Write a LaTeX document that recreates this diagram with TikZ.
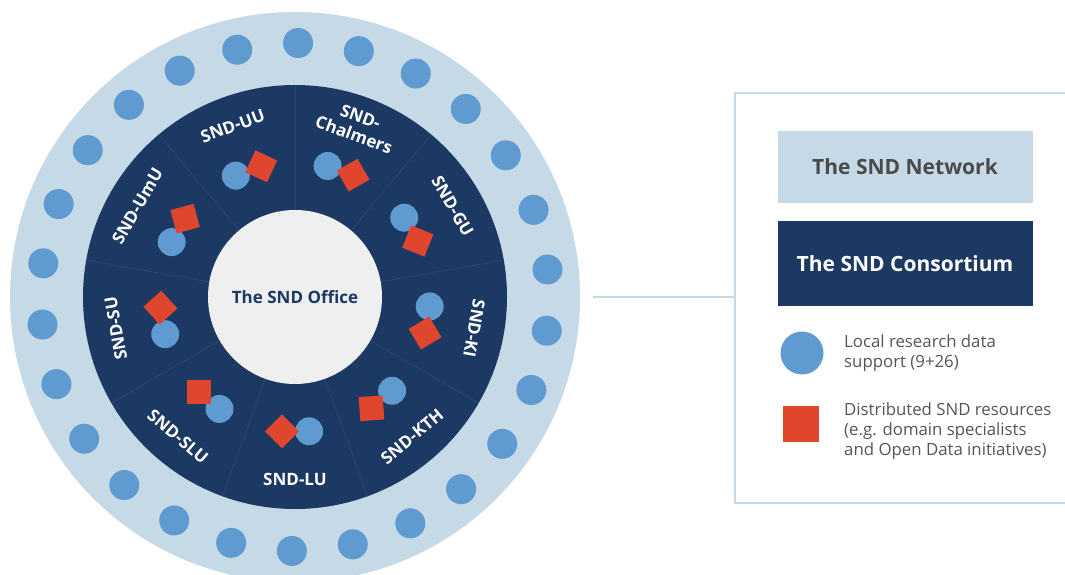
\documentclass[tikz,border=0pt]{standalone}
\usepackage{fontspec}
\setmainfont{Open Sans}
\usepackage{tikz}
\definecolor{ringblue}{HTML}{C5D9E6}
\definecolor{dotblue}{HTML}{5F9BD0}
\definecolor{navy}{HTML}{1C3963}
\definecolor{divider}{HTML}{2B4973}
\definecolor{resred}{HTML}{E0452D}
\definecolor{office}{HTML}{EFEFEF}
\definecolor{darkgray}{HTML}{4A4A4A}
\definecolor{legendgray}{HTML}{555555}
\tikzset{
  dot/.style={circle,fill=dotblue,minimum size=30pt,inner sep=0pt},
  hub/.style={circle,fill=dotblue,minimum size=28pt,inner sep=0pt},
  res/.style={rectangle,fill=resred,minimum size=24pt,inner sep=0pt},
  site/.style={text=white,font=\fontsize{17}{19}\selectfont\bfseries,align=center,inner sep=0pt},
  keybox/.style={minimum width=255pt,inner sep=0pt,font=\fontsize{21}{24}\selectfont\bfseries},
  keytext/.style={anchor=west,align=left,inner sep=0pt,text=legendgray,font=\fontsize{16.8}{20}\selectfont}
}

\begin{document}
\begin{tikzpicture}[x=1pt,y=1pt]
\useasboundingbox (0,0) rectangle (1065,574);
\clip (0,0) rectangle (1065,574);

% the network ring with the local support dots
\begin{scope}[shift={(295,277)}]
\fill[ringblue] (0,0) circle[radius=285pt];
\foreach \k in {0,...,25}
  \node[dot] (dot-\k) at (89.3+\k*13.846:254) {};

% the consortium
\fill[navy] (0,0) circle[radius=212pt];
\foreach \a in {90,130,...,410}
  \draw[divider,line width=0.7pt] (\a:87) -- (\a:212);
\node[circle,fill=office,minimum size=174pt,inner sep=0pt,text=navy,
  font=\fontsize{17}{19}\selectfont\bfseries] (office) at (0,0) {The SND Office};

\foreach \n/\a/\r/\t/\txt in {uu/110/-25/20/SND-UU, ch/70/30/-20/{SND-\\Chalmers},
  gu/30/-22/-60/SND-GU, ki/-10/31/-100/SND-KI, kth/-50/4/40/SND-KTH,
  lu/-90/45/0/SND-LU, slu/-130/0/-40/SND-SLU, su/190/42/100/SND-SU,
  umu/150/15/60/SND-UmU}
{
  \node[hub] (hub-\n) at (\a+6:135) {};
  \node[res,rotate=\r] (res-\n) at (\a-5.5:135) {};
  \node[site,rotate=\t] (lab-\n) at (\a:182) {\txt};
}
\end{scope}

% legend
\coordinate (tap) at (593,277);
\coordinate (boxw) at (735,277);
\draw[ringblue,line width=2pt] (1080,481) -- (735,481) -- (735,71) -- (1080,71);
\draw[ringblue,line width=1.5pt] (tap) -- (boxw);

\node[keybox,fill=ringblue,minimum height=72pt,text=darkgray] (net) at (905,407) {The SND Network};
\node[keybox,fill=navy,minimum height=85pt,text=white] (cons) at (905,310.5) {The SND Consortium};

\node[circle,fill=dotblue,minimum size=43pt,inner sep=0pt] (key-dot) at (802,221) {};
\node[keytext] (key-dot-txt) at (844,221) {Local research data\\support (9+26)};
\node[rectangle,fill=resred,minimum size=36pt,inner sep=0pt] (key-res) at (801,150.5) {};
\node[keytext] (key-res-txt) at (844,143) {Distributed SND resources\\(e.g. domain specialists\\and Open Data initiatives)};
\end{tikzpicture}
\end{document}
